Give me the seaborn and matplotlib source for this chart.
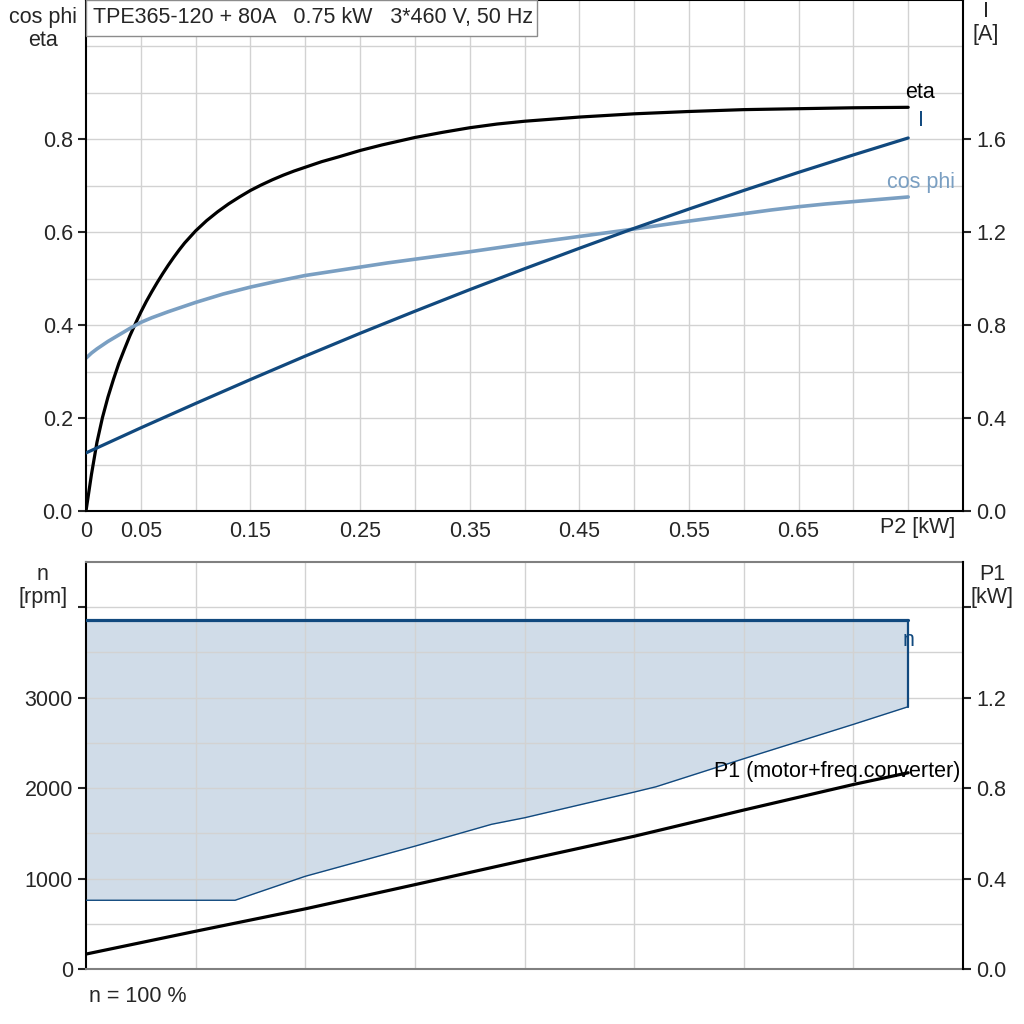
import numpy as np
import matplotlib
matplotlib.use("Agg")
import matplotlib.pyplot as plt
from matplotlib.patches import Rectangle
import seaborn as sns

# --- top panel data (P2 in kW) ---
p2_eta = [0, 0.005, 0.01, 0.015, 0.02, 0.025, 0.03, 0.035, 0.04, 0.045, 0.05, 0.055, 0.06,
          0.065, 0.07, 0.075, 0.08, 0.085, 0.09, 0.095, 0.1, 0.11, 0.12, 0.13, 0.14, 0.15,
          0.16, 0.17, 0.18, 0.19, 0.2, 0.215, 0.23, 0.25, 0.27, 0.3, 0.325, 0.35, 0.375,
          0.4, 0.45, 0.5, 0.55, 0.6, 0.65, 0.7, 0.75]
eta = [0, 0.079, 0.148, 0.201, 0.245, 0.283, 0.318, 0.348, 0.377, 0.403, 0.428, 0.451, 0.472,
       0.492, 0.511, 0.529, 0.546, 0.562, 0.577, 0.59, 0.603, 0.625, 0.644, 0.661, 0.676, 0.69,
       0.702, 0.713, 0.723, 0.732, 0.74, 0.752, 0.762, 0.776, 0.788, 0.804, 0.815, 0.825, 0.833,
       0.839, 0.848, 0.855, 0.86, 0.864, 0.866, 0.868, 0.869]

p2_cos = [0, 0.005, 0.01, 0.015, 0.02, 0.03, 0.04, 0.05, 0.06, 0.075, 0.1, 0.125, 0.15,
          0.175, 0.2, 0.225, 0.25, 0.275, 0.3, 0.35, 0.4, 0.45, 0.5, 0.55, 0.6, 0.625,
          0.65, 0.675, 0.7, 0.725, 0.75]
cos_phi = [0.329, 0.34, 0.349, 0.357, 0.365, 0.379, 0.393, 0.406, 0.416, 0.429, 0.449, 0.467,
           0.482, 0.495, 0.507, 0.516, 0.525, 0.534, 0.542, 0.558, 0.575, 0.591, 0.607, 0.624,
           0.64, 0.648, 0.655, 0.661, 0.666, 0.671, 0.676]

p2_i = [0, 0.05, 0.1, 0.15, 0.2, 0.25, 0.3, 0.35, 0.4, 0.45, 0.5, 0.55, 0.6, 0.65, 0.7, 0.75]
current = [0.25, 0.358, 0.463, 0.566, 0.667, 0.765, 0.86, 0.953, 1.043, 1.131, 1.217, 1.30,
           1.38, 1.458, 1.533, 1.606]

# --- bottom panel data ---
p2_n = [0, 0.136, 0.2, 0.3, 0.37, 0.4, 0.5, 0.52, 0.6, 0.7, 0.75]
n_min = [760, 760, 1025, 1358, 1600, 1672, 1956, 2015, 2325, 2705, 2900]
n_max = 3860

p2_p1 = [0, 0.1, 0.2, 0.3, 0.4, 0.5, 0.6, 0.7, 0.75]
p1 = [0.066, 0.167, 0.266, 0.373, 0.481, 0.587, 0.703, 0.816, 0.868]

title = "TPE365-120 + 80A   0.75 kW   3*460 V, 50 Hz"

sns.set_style("white")
plt.rcParams["font.family"] = ["Liberation Sans", "DejaVu Sans"]
plt.rcParams["font.size"] = 15.5

BLACK = "#000000"
DARK = "#11497e"
LIGHT = "#7a9fc2"
GRID = "#d2d2d2"
FILL = "#d0dce8"
FS = 15.5

fig = plt.figure(figsize=(10.24, 10.24), dpi=100)
L, W = 86 / 1024, (963 - 86) / 1024

ax1 = fig.add_axes([L, 1 - 511 / 1024, W, 511 / 1024])
ax2 = ax1.twinx()
ax3 = fig.add_axes([L, 1 - 969 / 1024, W, (969 - 562) / 1024])
ax4 = ax3.twinx()

# ---------- top panel ----------
ax1.set_xlim(0, 0.8)
ax1.set_ylim(0, 1.1)
ax2.set_ylim(0, 2.2)
for x in np.arange(0.05, 0.76, 0.05):
    ax1.axvline(x, color=GRID, lw=1, zorder=0)
for y in np.arange(0.1, 1.05, 0.1):
    ax1.axhline(y, color=GRID, lw=1, zorder=0)

sns.lineplot(x=p2_eta, y=eta, ax=ax1, color=BLACK, lw=2.3)
sns.lineplot(x=p2_cos, y=cos_phi, ax=ax1, color=LIGHT, lw=2.6)
sns.lineplot(x=p2_i, y=current, ax=ax2, color=DARK, lw=2.3)

ax1.text(0.747, eta[-1] + 0.01, "eta", color=BLACK, ha="left", va="bottom")
ax2.text(0.762, current[-1] + 0.03, "I", color=DARK, ha="center", va="bottom")
ax1.text(0.762, cos_phi[-1] + 0.008, "cos phi", color=LIGHT, ha="center", va="bottom")

ax1.set_yticks([0, 0.2, 0.4, 0.6, 0.8], labels=["0.0", "0.2", "0.4", "0.6", "0.8"])
ax2.set_yticks([0, 0.4, 0.8, 1.2, 1.6], labels=["0.0", "0.4", "0.8", "1.2", "1.6"])
ax1.set_xticks([0.1, 0.2, 0.3, 0.4, 0.5, 0.6, 0.7, 0.75], labels=[""] * 8)
ax1.set_xticks([0, 0.05, 0.15, 0.25, 0.35, 0.45, 0.55, 0.65],
               labels=["0", "0.05", "0.15", "0.25", "0.35", "0.45", "0.55", "0.65"], minor=True)
ax1.tick_params(axis="x", which="major", direction="out", length=6, width=1.5)
ax1.tick_params(axis="x", which="minor", length=0, pad=7, labelsize=FS)
ax1.tick_params(axis="y", direction="out", length=6, width=1.5, labelsize=FS)
ax2.tick_params(axis="y", direction="out", length=6, width=1.5, labelsize=FS)
ax1.text(0.759, -0.012, "P2 [kW]", transform=ax1.get_xaxis_transform(), ha="center", va="top")

for sp in ["left", "bottom", "top"]:
    ax1.spines[sp].set_color(BLACK)
    ax1.spines[sp].set_linewidth(1.5)
ax1.spines["right"].set_visible(False)
for sp in ["left", "bottom", "top"]:
    ax2.spines[sp].set_visible(False)
ax2.spines["right"].set_color(BLACK)
ax2.spines["right"].set_linewidth(1.5)
ax1.set_xlabel("")
ax1.set_ylabel("")
ax2.set_ylabel("")

# ---------- bottom panel ----------
ax3.set_xlim(0, 0.8)
ax3.set_ylim(0, 4500)
ax4.set_ylim(0, 1.8)
ax3.fill_between(p2_n, n_min, n_max, color=FILL, lw=0, zorder=0.5)
for x in np.arange(0.1, 0.71, 0.1):
    ax3.axvline(x, color=GRID, lw=1, zorder=1)
for y in np.arange(500, 4001, 500):
    ax3.axhline(y, color=GRID, lw=1, zorder=1)

sns.lineplot(x=p2_n, y=n_min, ax=ax3, color=DARK, lw=1.0, zorder=3)
sns.lineplot(x=[p2_n[0], p2_n[-1]], y=[n_max, n_max], ax=ax3, color=DARK, lw=2.3, zorder=3)
ax3.plot([p2_n[-1], p2_n[-1]], [n_min[-1], n_max], color=DARK, lw=1.6, zorder=3)
ax3.text(0.75, n_max - 110, "n", color=DARK, ha="center", va="top")

sns.lineplot(x=p2_p1, y=p1, ax=ax4, color=BLACK, lw=2.3)
ax4.text(0.798, p1[-1] + 0.005, "P1 (motor+freq.converter)", color=BLACK, ha="right", va="center")

ax3.set_xticks([])
ax3.set_yticks([0, 1000, 2000, 3000, 4000], labels=["0", "1000", "2000", "3000", ""])
ax4.set_yticks([0, 0.4, 0.8, 1.2, 1.6], labels=["0.0", "0.4", "0.8", "1.2", ""])
ax3.tick_params(axis="y", direction="out", length=6, width=1.5, labelsize=FS)
ax4.tick_params(axis="y", direction="out", length=6, width=1.5, labelsize=FS)

ax3.spines["left"].set_color(BLACK)
ax3.spines["left"].set_linewidth(1.5)
for sp in ["top", "bottom"]:
    ax3.spines[sp].set_color("#808080")
    ax3.spines[sp].set_linewidth(1.5)
ax3.spines["right"].set_visible(False)
for sp in ["left", "bottom", "top"]:
    ax4.spines[sp].set_visible(False)
ax4.spines["right"].set_color(BLACK)
ax4.spines["right"].set_linewidth(1.5)
for a in (ax3, ax4):
    a.set_xlabel("")
    a.set_ylabel("")

# ---------- axis captions and title box ----------
fig.text(43 / 1024, 1 - 29 / 1024, "cos phi\neta", ha="center", va="center", linespacing=1.1)
fig.text(986 / 1024, 1 - 23 / 1024, "I\n[A]", ha="center", va="center", linespacing=1.1)
fig.text(43 / 1024, 1 - 586 / 1024, "n\n[rpm]", ha="center", va="center", linespacing=1.1)
fig.text(992 / 1024, 1 - 586 / 1024, "P1\n[kW]", ha="center", va="center", linespacing=1.1)
fig.text(89 / 1024, 1 - 996 / 1024, "n = 100 %", ha="left", va="center")

box = Rectangle((86 / 1024, 1 - 36 / 1024), (537 - 86) / 1024, 36 / 1024,
                transform=fig.transFigure, fc="white", ec="#8c8c8c", lw=1, zorder=5)
fig.add_artist(box)
fig.text(93 / 1024, 1 - 17 / 1024, title, ha="left", va="center", zorder=6)

fig.savefig("out.png", dpi=100, facecolor="white")
